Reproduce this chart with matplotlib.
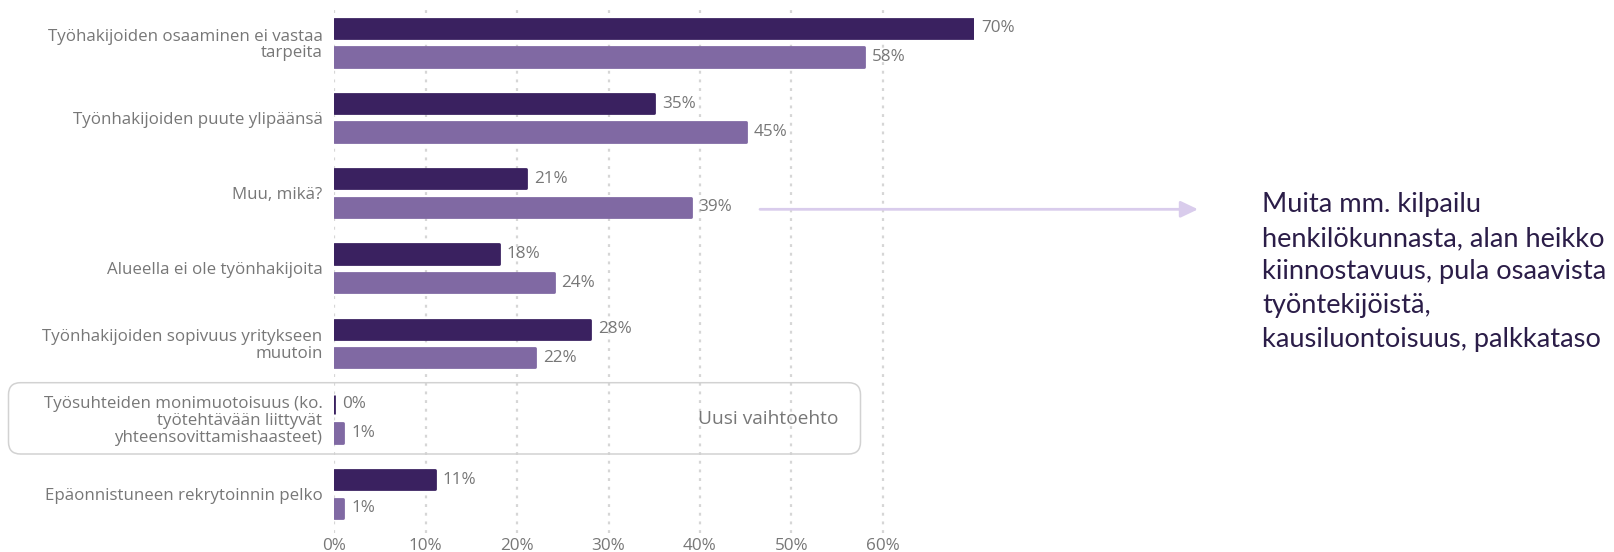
import matplotlib
matplotlib.use("Agg")
import matplotlib.pyplot as plt
import matplotlib.transforms as mtransforms
from matplotlib.patches import FancyBboxPatch
import numpy as np

# Survey results: reasons for recruitment difficulties (two survey rounds)
categories = [
    "Työhakijoiden osaaminen ei vastaa\ntarpeita",
    "Työnhakijoiden puute ylipäänsä",
    "Muu, mikä?",
    "Alueella ei ole työnhakijoita",
    "Työnhakijoiden sopivuus yritykseen\nmuutoin",
    "Työsuhteiden monimuotoisuus (ko.\ntyötehtävään liittyvät\nyhteensovittamishaasteet)",
    "Epäonnistuneen rekrytoinnin pelko",
]
series_a = [70, 35, 21, 18, 28, 0, 11]
series_b = [58, 45, 39, 24, 22, 1, 1]
x_ticks = [0, 10, 20, 30, 40, 50, 60]
x_tick_labels = ["0%", "10%", "20%", "30%", "40%", "50%", "60%"]

new_option_label = "Uusi vaihtoehto"
note_text = ("Muita mm. kilpailu\nhenkilökunnasta, alan heikko\n"
             "kiinnostavuus, pula osaavista\ntyöntekijöistä,\n"
             "kausiluontoisuus, palkkataso")

DARK = "#3a2160"
LIGHT = "#8069a3"
GREY = "#777777"
GRID = "#d6d6d6"
FONT = "Open Sans"

W, H = 1614, 552
fig = plt.figure(figsize=(W / 100, H / 100), dpi=100)
ax = fig.add_axes([334.3 / W, 1 - 533 / H, (7 * 91.4) / W, (533 - 5) / H])
ax.patch.set_visible(False)

y = np.arange(len(categories))
offset = 0.19
bar_h = 0.256
edge_lw = 2.0

bars_a = ax.barh(y - offset, series_a, height=bar_h, color=DARK,
                 edgecolor=DARK, linewidth=edge_lw, zorder=3)
bars_b = ax.barh(y + offset, series_b, height=bar_h, color=LIGHT,
                 edgecolor=LIGHT, linewidth=edge_lw, zorder=3)
for p in list(bars_a) + list(bars_b):
    p.set_joinstyle("round")

for vals, pos in ((series_a, y - offset), (series_b, y + offset)):
    for v, yy in zip(vals, pos):
        ax.annotate(f"{v}%", xy=(v, yy), xytext=(5.5, 0),
                    textcoords="offset points", va="center", ha="left",
                    fontsize=12.3, color=GREY, family=FONT, zorder=4)

ax.set_xlim(0, 70)
ax.set_ylim(6.52, -0.5)
ax.set_xticks(x_ticks)
ax.set_xticklabels(x_tick_labels, family=FONT, fontsize=12.3, color=GREY)
ax.set_yticks(y)
ax.set_yticklabels(categories, family=FONT, fontsize=12.2, color=GREY,
                   linespacing=1.06)
ax.tick_params(axis="both", length=0)
ax.tick_params(axis="y", pad=8.5)
ax.tick_params(axis="x", pad=3.5)
for s in ax.spines.values():
    s.set_visible(False)
ax.grid(axis="x", color=GRID, linestyle=(0, (1.3, 2.6)), linewidth=1.6,
        zorder=0)
ax.set_axisbelow(True)

# Rounded frame around the newly added option
px = mtransforms.IdentityTransform()
box = FancyBboxPatch((8.5, H - 454), 852, 71.3,
                     boxstyle="round,pad=0,rounding_size=12",
                     transform=px, facecolor="none", edgecolor="#d2d2d2",
                     linewidth=1.1, zorder=1)
fig.patches.append(box)
fig.text(838 / W, 1 - 419 / H, new_option_label, ha="right", va="center",
         family=FONT, fontsize=13.8, color=GREY)

# Arrow pointing from "Muu, mikä?" to the explanatory note
ax.annotate("", xy=(1198, H - 209.3), xycoords="figure pixels",
            xytext=(760, H - 209.3), textcoords="figure pixels",
            arrowprops=dict(arrowstyle="-|>,head_length=10.5,head_width=5",
                            mutation_scale=1, color="#d9ccec", linewidth=2,
                            shrinkA=0, shrinkB=0),
            annotation_clip=False)

fig.text(1262 / W, 1 - 272 / H, note_text, ha="left", va="center",
         family="Lato", fontsize=19.6, color="#2b1d48", linespacing=1.43)

fig.savefig("out.png", dpi=100)
